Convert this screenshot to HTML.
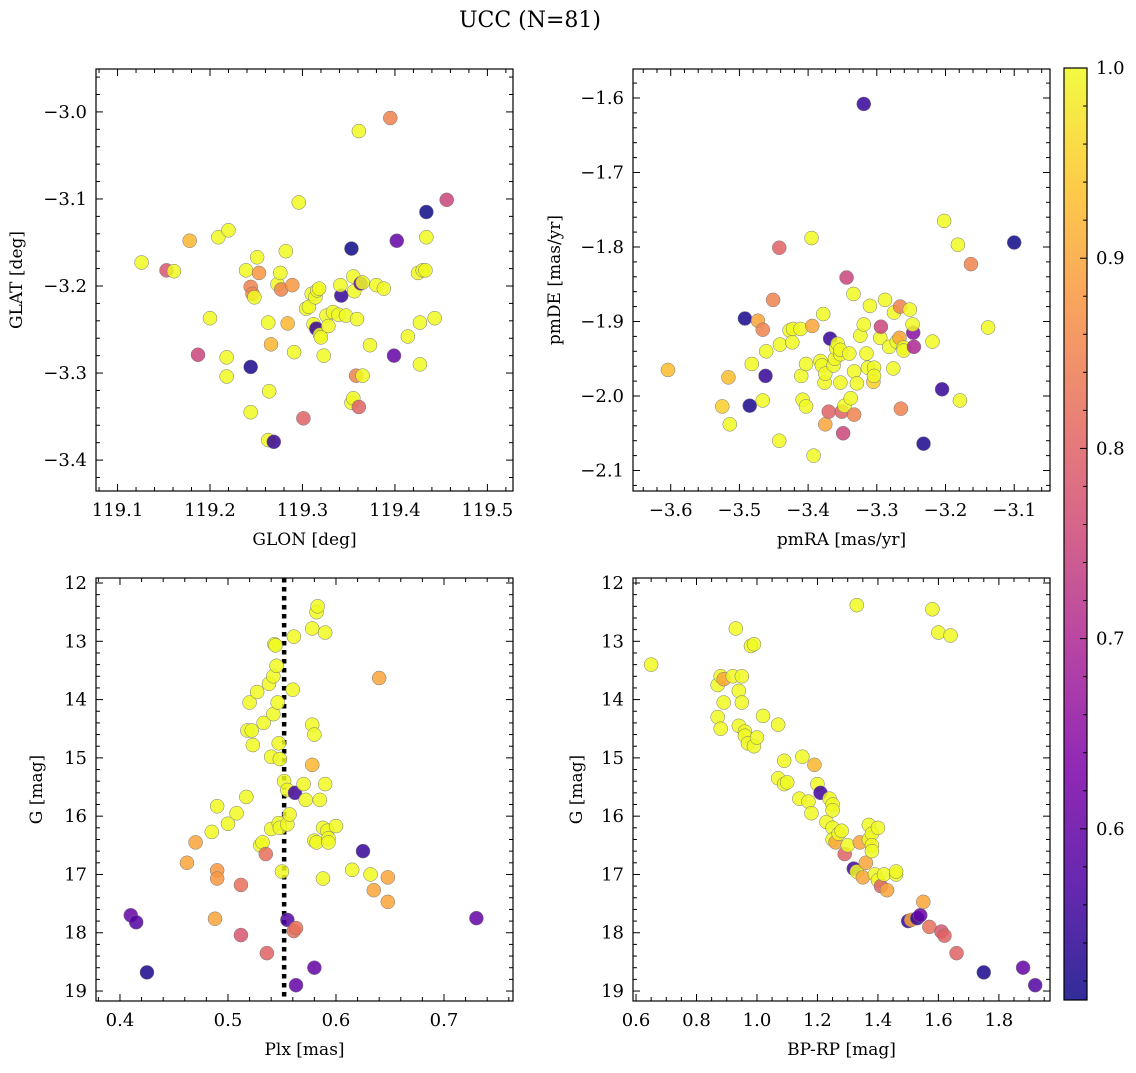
<!DOCTYPE html>
<html><head><meta charset="utf-8"><style>
body{margin:0;background:#fff;}
svg text{font-family:"DejaVu Serif","Liberation Serif",serif;fill:#000;}
</style></head><body>
<svg id="fig" width="1136" height="1068" viewBox="0 0 1136 1068" xmlns="http://www.w3.org/2000/svg">
<text x="530" y="27" font-size="22" text-anchor="middle">UCC (N=81)</text>
</svg>
<script>
// ---- Panel 1: GLON vs GLAT
const glon=[119.126,119.153,119.161,119.178,119.187,119.2,119.209,119.22,119.218,119.218,119.239,119.244,119.246,119.248,119.251,119.253,119.244,119.244,119.263,119.264,119.266,119.263,119.269,119.273,119.276,119.277,119.282,119.284,119.289,119.291,119.296,119.301,119.304,119.307,119.31,119.312,119.314,119.315,119.316,119.318,119.319,119.32,119.323,119.326,119.328,119.342,119.333,119.339,119.341,119.347,119.353,119.353,119.355,119.355,119.356,119.358,119.359,119.361,119.363,119.365,119.361,119.365,119.373,119.38,119.388,119.395,119.399,119.402,119.414,119.425,119.427,119.427,119.43,119.434,119.434,119.433,119.443,119.456];
const glat=[-3.173,-3.182,-3.183,-3.148,-3.279,-3.237,-3.144,-3.136,-3.282,-3.304,-3.182,-3.201,-3.209,-3.213,-3.167,-3.185,-3.293,-3.345,-3.242,-3.321,-3.267,-3.377,-3.379,-3.198,-3.185,-3.204,-3.16,-3.243,-3.199,-3.276,-3.104,-3.352,-3.226,-3.224,-3.209,-3.244,-3.213,-3.249,-3.205,-3.203,-3.256,-3.259,-3.28,-3.234,-3.246,-3.211,-3.23,-3.233,-3.199,-3.234,-3.157,-3.334,-3.189,-3.329,-3.206,-3.303,-3.238,-3.022,-3.197,-3.196,-3.339,-3.303,-3.268,-3.199,-3.203,-3.007,-3.28,-3.148,-3.258,-3.185,-3.242,-3.29,-3.182,-3.115,-3.144,-3.182,-3.237,-3.101];
const prob1=[1,0.78,1,0.92,0.75,1,1,1,1,1,1,0.85,0.85,1,1,0.88,0.52,1,1,1,0.92,1,0.55,1,1,0.85,1,0.92,0.88,1,1,0.8,1,1,1,1,1,0.55,1,1,1,1,1,1,1,0.55,1,1,1,1,0.51,1,1,1,1,0.85,1,1,0.6,1,0.8,1,1,1,1,0.85,0.6,0.6,1,1,1,1,1,0.51,1,1,1,0.75];
// ---- Panel 2: pmRA vs pmDE
const pmra=[-3.604,-3.525,-3.492,-3.485,-3.516,-3.514,-3.482,-3.473,-3.466,-3.461,-3.462,-3.466,-3.451,-3.442,-3.442,-3.441,-3.427,-3.422,-3.423,-3.411,-3.410,-3.408,-3.403,-3.403,-3.395,-3.394,-3.392,-3.382,-3.380,-3.378,-3.376,-3.375,-3.375,-3.370,-3.368,-3.363,-3.361,-3.359,-3.357,-3.353,-3.353,-3.353,-3.351,-3.349,-3.347,-3.344,-3.340,-3.338,-3.334,-3.333,-3.333,-3.329,-3.324,-3.319,-3.319,-3.315,-3.313,-3.310,-3.305,-3.304,-3.304,-3.295,-3.294,-3.288,-3.282,-3.275,-3.276,-3.271,-3.267,-3.266,-3.265,-3.261,-3.261,-3.252,-3.247,-3.248,-3.246,-3.232,-3.219,-3.205,-3.202,-3.182,-3.179,-3.163,-3.138,-3.100];
const pmde=[-1.965,-2.014,-1.896,-2.013,-1.975,-2.038,-1.957,-1.899,-1.911,-1.94,-1.973,-2.006,-1.871,-2.06,-1.801,-1.931,-1.912,-1.91,-1.928,-1.91,-1.973,-2.005,-2.014,-1.957,-1.788,-1.906,-2.08,-1.953,-1.959,-1.89,-1.982,-1.97,-2.038,-2.021,-1.923,-1.959,-1.95,-1.936,-1.93,-1.944,-1.938,-1.982,-2.021,-2.05,-2.013,-1.841,-1.943,-2.003,-1.863,-2.025,-1.967,-1.983,-1.919,-1.904,-1.608,-1.943,-1.962,-1.879,-1.981,-1.962,-1.973,-1.922,-1.907,-1.871,-1.934,-1.888,-1.963,-1.927,-1.922,-1.88,-2.017,-1.935,-1.939,-1.884,-1.915,-1.904,-1.934,-2.064,-1.927,-1.991,-1.765,-1.797,-2.006,-1.823,-1.908,-1.794];
const prob2=[0.93,0.95,0.52,0.52,0.93,1,1,0.9,0.85,1,0.55,1,0.85,1,0.8,1,1,1,1,1,1,1,1,1,1,0.9,1,1,1,1,1,1,0.9,0.8,0.55,1,1,1,1,1,1,1,0.8,0.75,1,0.75,1,1,1,0.85,1,1,1,1,0.55,1,1,1,0.95,1,1,1,0.75,1,1,1,1,1,0.9,0.85,0.85,1,1,1,0.65,1,0.7,0.52,1,0.55,1,1,1,0.85,1,0.51];
// ---- Panel 3: Plx vs G
const plx=[0.41,0.415,0.425,0.462,0.47,0.485,0.49,0.49,0.49,0.488,0.5,0.508,0.512,0.512,0.517,0.518,0.52,0.522,0.523,0.527,0.53,0.532,0.533,0.535,0.536,0.538,0.54,0.54,0.542,0.542,0.543,0.544,0.545,0.546,0.547,0.547,0.548,0.548,0.55,0.552,0.555,0.555,0.555,0.557,0.56,0.561,0.561,0.562,0.563,0.563,0.57,0.572,0.578,0.578,0.58,0.578,0.58,0.58,0.582,0.583,0.582,0.585,0.588,0.588,0.59,0.59,0.592,0.593,0.593,0.6,0.615,0.625,0.632,0.635,0.64,0.648,0.648,0.73];
const gmag3=[17.7,17.82,18.68,16.8,16.45,16.27,15.83,16.93,17.07,17.76,16.13,15.95,17.18,18.04,15.67,14.53,14.05,14.53,14.78,13.87,16.5,16.45,14.4,16.65,18.35,13.73,14.98,16.22,14.25,13.6,13.05,13.07,13.42,14.05,14.75,16.12,15.02,16.2,16.95,15.4,15.55,16.14,17.78,15.97,13.83,12.92,17.97,15.6,17.92,18.9,15.45,15.72,12.78,14.43,14.6,15.12,16.42,18.6,12.5,12.4,16.45,15.72,16.2,17.07,15.45,12.85,16.25,16.38,16.45,16.17,16.92,16.6,17.0,17.27,13.63,17.05,17.47,17.75];
const prob3=[0.6,0.58,0.52,0.9,0.9,1,1,0.88,0.88,0.9,1,1,0.82,0.78,1,1,1,1,1,1,1,1,1,0.82,0.8,1,1,1,1,1,1,1,1,1,1,1,1,1,1,1,1,1,0.58,1,1,1,0.82,0.56,0.82,0.6,1,1,1,1,1,0.92,1,0.6,1,1,1,1,1,1,1,1,1,1,1,1,1,0.55,1,0.9,0.9,0.9,0.9,0.6];
const plxLine=[0.552];
// ---- Panel 4: BP-RP vs G
const bprp=[0.65,0.87,0.87,0.88,0.88,0.89,0.89,0.92,0.93,0.94,0.94,0.95,0.95,0.96,0.96,0.97,0.98,0.99,0.99,1.0,1.02,1.07,1.07,1.09,1.09,1.1,1.14,1.15,1.17,1.18,1.19,1.2,1.21,1.23,1.24,1.25,1.25,1.25,1.25,1.26,1.27,1.28,1.29,1.3,1.32,1.33,1.33,1.34,1.35,1.36,1.37,1.37,1.38,1.38,1.38,1.39,1.4,1.4,1.41,1.42,1.43,1.46,1.46,1.5,1.51,1.53,1.54,1.55,1.57,1.58,1.6,1.61,1.62,1.64,1.66,1.75,1.88,1.92];
const gmag4=[13.4,14.3,13.75,14.5,13.6,13.65,14.05,13.6,12.78,13.85,14.45,13.6,14.05,14.55,14.62,14.75,13.08,13.05,14.8,14.65,14.28,14.43,15.35,15.05,15.45,15.42,15.7,14.98,15.75,15.95,15.12,15.45,15.6,16.1,15.7,15.8,15.9,16.2,16.4,16.45,16.3,16.25,16.65,16.5,16.9,12.38,16.95,16.45,17.05,16.8,16.15,16.4,16.3,16.5,16.6,17.0,16.2,17.1,17.2,17.0,17.27,17.0,16.95,17.8,17.78,17.75,17.7,17.47,17.9,12.45,12.85,17.98,18.05,12.9,18.35,18.68,18.6,18.9];
const prob4=[1,1,1,1,1,0.9,1,1,1,1,1,1,1,1,1,1,1,1,1,1,1,1,1,1,1,1,1,1,1,1,0.92,1,0.56,1,1,1,1,1,1,0.9,1,1,0.8,1,0.56,1,1,0.9,0.9,0.9,1,1,1,1,1,1,1,1,0.8,1,0.9,1,1,0.55,0.9,0.55,0.6,0.9,0.82,1,1,0.78,0.8,1,0.8,0.52,0.6,0.58];
// colour scale
const cbTicks=[0.6,0.7,0.8,0.9,1.0];
const pmin=0.51,pmax=1.0;

const NS="http://www.w3.org/2000/svg";
const svg=document.getElementById('fig');
const stops=[[0,'#0d0887'],[0.125,'#4c02a1'],[0.25,'#7e03a8'],[0.375,'#a92395'],[0.5,'#cc4778'],[0.625,'#e56b5d'],[0.75,'#f89441'],[0.875,'#fdc328'],[1,'#f0f921']];
function hex(h){return [1,3,5].map(i=>parseInt(h.substr(i,2),16));}
function cmap(p){let t=Math.max(0,Math.min(1,(p-pmin)/(pmax-pmin)));
 for(let i=1;i<stops.length;i++){if(t<=stops[i][0]){const a=hex(stops[i-1][1]),b=hex(stops[i][1]);const f=(t-stops[i-1][0])/(stops[i][0]-stops[i-1][0]);
 return 'rgb('+a.map((v,k)=>Math.round(v+(b[k]-v)*f)).join(',')+')';}}return stops[8][1];}
function el(tag,attrs,parent){const e=document.createElementNS(NS,tag);for(const k in attrs)e.setAttribute(k,attrs[k]);(parent||svg).appendChild(e);return e;}
function fmt(v,d){return (v<0?'\u2212':'')+Math.abs(v).toFixed(d);}

function panel(o){
 const g=el('g',{});
 
 
 const X=v=>o.x0+(v-o.xmin)/(o.xmax-o.xmin)*(o.x1-o.x0);
 const Y=v=>o.inv? o.y0+(v-o.ymin)/(o.ymax-o.ymin)*(o.y1-o.y0) : o.y1-(v-o.ymin)/(o.ymax-o.ymin)*(o.y1-o.y0);
 const tk=el('g',{stroke:'#000','stroke-width':1},g);
 
 
 const eps=1e-9;
 for(let v=Math.ceil(o.xmin/o.xminor-eps)*o.xminor;v<=o.xmax+eps;v+=o.xminor){
  const isM=Math.abs(v/o.xmajor-Math.round(v/o.xmajor))<1e-6, L=isM?7:4, px=X(v);
  el('line',{x1:px,x2:px,y1:o.y1,y2:o.y1-L},tk);el('line',{x1:px,x2:px,y1:o.y0,y2:o.y0+L},tk);
  if(isM){const t=el('text',{x:px,y:o.y1+25,'font-size':18,'text-anchor':'middle'},g);t.textContent=fmt(v,o.xd);
   
   }
 }
 for(let v=Math.ceil(o.ymin/o.yminor-eps)*o.yminor;v<=o.ymax+eps;v+=o.yminor){
  const isM=Math.abs(v/o.ymajor-Math.round(v/o.ymajor))<1e-6, L=isM?7:4, py=Y(v);
  el('line',{x1:o.x0,x2:o.x0+L,y1:py,y2:py},tk);el('line',{x1:o.x1,x2:o.x1-L,y1:py,y2:py},tk);
  if(isM){const t=el('text',{x:o.x0-9,y:py+6,'font-size':18,'text-anchor':'end'},g);t.textContent=fmt(v,o.yd);
   
   }
 }
 if(o.vline){const l=el('line',{x1:X(o.vline[0]),x2:X(o.vline[0]),y1:o.y0,y2:o.y1,stroke:'#000','stroke-width':4.5,'stroke-dasharray':'4.5 4.5'},g);
  
  }
 for(let i=0;i<o.xs.length;i++){
  const c=el('circle',{cx:X(o.xs[i]),cy:Y(o.ys[i]),r:7,fill:cmap(o.ps[i]),'fill-opacity':0.85,stroke:'#777','stroke-width':0.5},g);
  
  
 }
 const fr=el('rect',{x:o.x0,y:o.y0,width:o.x1-o.x0,height:o.y1-o.y0,fill:'none',stroke:'#000','stroke-width':1.2},g);
 
 
 const xl=el('text',{x:(o.x0+o.x1)/2,y:o.y1+54,'font-size':17,'text-anchor':'middle'},g);xl.textContent=o.xlabel;
 
 
 const yx=o.ylx, yy=(o.y0+o.y1)/2;
 const yl=el('text',{x:yx,y:yy,'font-size':17,'text-anchor':'middle',transform:`rotate(-90 ${yx} ${yy})`},g);yl.textContent=o.ylabel;
 
 
}
panel({name:'glon-glat-panel',x0:96,x1:513,y0:69,y1:491,xmin:119.0767,xmax:119.5277,ymin:-3.4355,ymax:-2.9507,xmajor:0.1,xminor:0.02,ymajor:0.1,yminor:0.02,xd:1,yd:1,
 xs:glon,ys:glat,ps:prob1,xlabel:'GLON [deg]',ylabel:'GLAT [deg]',ylx:22});
panel({name:'pm-panel',x0:633,x1:1050,y0:69,y1:491,xmin:-3.6549,xmax:-3.0479,ymin:-2.1275,ymax:-1.5611,xmajor:0.1,xminor:0.02,ymajor:0.1,yminor:0.02,xd:1,yd:1,
 xs:pmra,ys:pmde,ps:prob2,xlabel:'pmRA [mas/yr]',ylabel:'pmDE [mas/yr]',ylx:560});
panel({name:'plx-g-panel',x0:96,x1:513,y0:578,y1:1001,xmin:0.3778,xmax:0.7639,ymin:11.914,ymax:19.171,inv:true,xmajor:0.1,xminor:0.02,ymajor:1,yminor:0.2,xd:1,yd:0,
 xs:plx,ys:gmag3,ps:prob3,vline:plxLine,xlabel:'Plx [mas]',ylabel:'G [mag]',ylx:42});
panel({name:'cmd-panel',x0:633,x1:1050,y0:578,y1:1001,xmin:0.590,xmax:1.969,ymin:11.914,ymax:19.171,inv:true,xmajor:0.2,xminor:0.05,ymajor:1,yminor:0.2,xd:1,yd:0,
 xs:bprp,ys:gmag4,ps:prob4,xlabel:'BP-RP [mag]',ylabel:'G [mag]',ylx:582});
(function(){
 const cx0=1064,cx1=1087,cy0=68,cy1=1000;
 const CY=v=>cy1-(v-pmin)/(pmax-pmin)*(cy1-cy0);
 const defs=el('defs',{});const lg=el('linearGradient',{id:'cbg',x1:0,y1:1,x2:0,y2:0},defs);
 stops.forEach(s=>el('stop',{offset:s[0],'stop-color':s[1],'stop-opacity':0.85},lg));
 const g=el('g',{});
 
 
 el('rect',{x:cx0,y:cy0,width:cx1-cx0,height:cy1-cy0,fill:'url(#cbg)',stroke:'#000','stroke-width':1.2},g);
 for(let v=0.52;v<=1.0001;v+=0.02){const isM=Math.abs(v*10-Math.round(v*10))<1e-6;
  el('line',{x1:cx1,x2:cx1-(isM?7:4),y1:CY(v),y2:CY(v),stroke:'#000','stroke-width':1},g);}
 cbTicks.forEach(v=>{const t=el('text',{x:cx1+9,y:CY(v)+6,'font-size':18},g);t.textContent=v.toFixed(1);
  
  });
})();
</script>
</body></html>
